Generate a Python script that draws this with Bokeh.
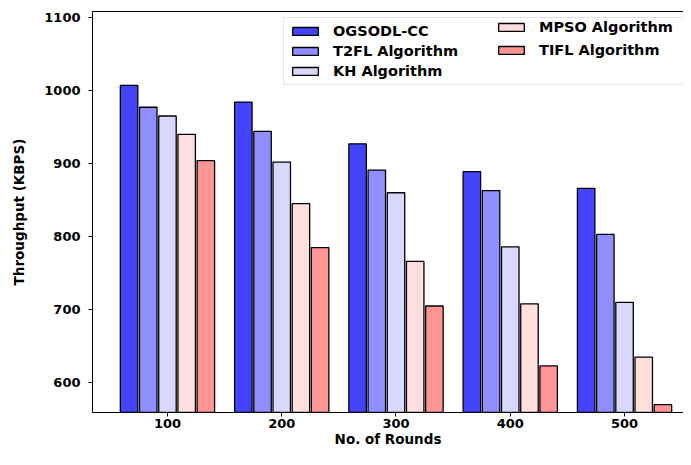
from bokeh.plotting import figure
from bokeh.models import ColumnDataSource, FixedTicker, LinearAxis, Legend, LegendItem, Range1d
from bokeh.transform import dodge
from bokeh.embed import file_html
from bokeh.resources import INLINE

rounds = [100, 200, 300, 400, 500]
ogsodl = [1007, 984, 927, 889, 866]
t2fl = [977, 944, 891, 863, 803]
kh = [965, 902, 860, 786, 710]
mpso = [940, 845, 766, 708, 635]
tifl = [904, 785, 705, 623, 570]
series_names = ["OGSODL-CC", "T2FL Algorithm", "KH Algorithm", "MPSO Algorithm", "TIFL Algorithm"]
colors = ["#4444ff", "#8f8fff", "#d8d8ff", "#ffdede", "#ff9494"]
y_ticks = [600, 700, 800, 900, 1000, 1100]

src = ColumnDataSource(dict(x=rounds, s0=ogsodl, s1=t2fl, s2=kh, s3=mpso, s4=tifl))

FONT = "DejaVu Sans"
p = figure(width=683, height=449, output_backend="svg", toolbar_location=None,
           x_range=Range1d(34.4, 551.6), y_range=Range1d(559.3, 1108),
           min_border_left=92, min_border_right=0, min_border_top=11, min_border_bottom=0)
p.outline_line_color = None
p.xgrid.visible = False
p.ygrid.visible = False

offsets = [-33.6, -16.8, 0, 16.8, 33.6]
renderers = []
for i in range(5):
    r = p.vbar(x=dodge("x", offsets[i]), top="s%d" % i, bottom=0, width=15.3, source=src,
               fill_color=colors[i], line_color="black", line_width=1.3)
    renderers.append(r)

for ax in (p.xaxis[0], p.yaxis[0]):
    ax.axis_line_color = "black"
    ax.axis_line_width = 1
    ax.major_tick_line_color = "black"
    ax.major_tick_in = 0
    ax.major_tick_out = 4
    ax.minor_tick_line_color = None
    ax.major_label_text_font = FONT
    ax.major_label_text_font_style = "bold"
    ax.major_label_text_font_size = "13px"
    ax.major_label_text_color = "black"
    ax.axis_label_text_font = FONT
    ax.axis_label_text_font_style = "bold"
    ax.axis_label_text_font_size = "13.5px"
    ax.axis_label_text_color = "black"

p.xaxis[0].ticker = FixedTicker(ticks=rounds)
p.xaxis[0].axis_label = "No. of Rounds"
p.xaxis[0].major_label_standoff = 2
p.xaxis[0].axis_label_standoff = 0
p.yaxis[0].ticker = FixedTicker(ticks=y_ticks)
p.yaxis[0].axis_label = "Throughput (KBPS)"
p.yaxis[0].major_label_standoff = 8
p.yaxis[0].axis_label_standoff = 14

top_ax = LinearAxis(ticker=FixedTicker(ticks=[]), major_label_text_font_size="0px",
                    major_tick_out=0, major_tick_in=0, minor_tick_line_color=None,
                    axis_line_color="black", axis_line_width=1)
p.add_layout(top_ax, "above")

common = dict(label_text_font=FONT, label_text_font_style="bold", label_text_font_size="14.5px",
              label_text_color="black",
              glyph_width=32, glyph_height=10, label_standoff=12, padding=5, margin=0)

items_a = [LegendItem(label=series_names[i], renderers=[renderers[i]]) for i in range(3)]
items_b = [LegendItem(label=series_names[i], renderers=[renderers[i]]) for i in range(3, 5)]

legend_a = Legend(items=items_a, location=(191, 327), label_width=350, spacing=4,
                  border_line_color="#cccccc", border_line_width=1,
                  background_fill_color="white", background_fill_alpha=0.85, **common)
legend_b = Legend(items=items_b, location=(403, 354), label_width=20, spacing=7,
                  border_line_color=None, background_fill_alpha=0, **common)
p.add_layout(legend_a, "center")
p.add_layout(legend_b, "center")

open("out.html", "w").write(file_html(p, INLINE))
